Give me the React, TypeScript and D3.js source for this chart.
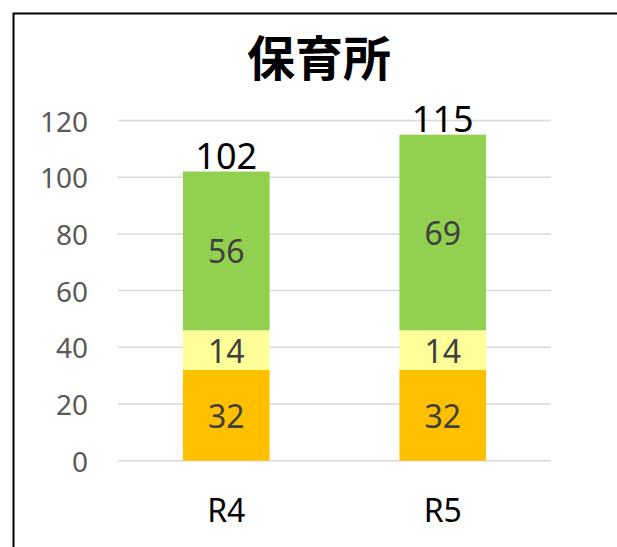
import React from "react";
import * as d3 from "d3";

const title = "保育所";
const categories = ["R4", "R5"];
const seriesKeys = ["a", "b", "c"];
const seriesA = [32, 32];
const seriesB = [14, 14];
const seriesC = [56, 69];
const totals = [102, 115];
const yTicks = [0, 20, 40, 60, 80, 100, 120];
const colors = ["#FFC000", "#FFFF99", "#92D050"];

const W = 617;
const H = 547;
const FONT = "'Noto Sans', 'Open Sans', sans-serif";

export default function App() {
  const rows = categories.map((c, i) => ({
    cat: c,
    a: seriesA[i],
    b: seriesB[i],
    c: seriesC[i],
    total: totals[i],
  }));
  const stack = d3.stack<any>().keys(seriesKeys)(rows);
  const x = d3
    .scaleBand<string>()
    .domain(categories)
    .range([118, 551])
    .paddingInner(0.6)
    .paddingOuter(0.3);
  const y = d3.scaleLinear().domain([0, 120]).range([460.7, 120.5]);
  const bw = x.bandwidth();

  return (
    <svg
      width={W}
      height={H}
      style={{ position: "absolute", left: 0, top: 0, background: "#fff" }}
      fontFamily={FONT}
    >
      <rect x={0} y={0} width={W} height={H} fill="#fff" />
      <path d={`M13.5,${H} L13.5,13.5 L${W},13.5`} fill="none" stroke="#000" strokeWidth={2} />
      <text
        x={319}
        y={63}
        textAnchor="middle"
        dominantBaseline="middle"
        fontSize={48}
        fontWeight="bold"
        fontFamily="'Noto Sans CJK JP', sans-serif"
        fill="#000"
      >
        {title}
      </text>
      {yTicks.map((t) => (
        <g key={t}>
          <line x1={118} x2={551} y1={y(t)} y2={y(t)} stroke="#d9d9d9" strokeWidth={1.5} />
          <text
            x={88}
            y={y(t)}
            textAnchor="end"
            dominantBaseline="central"
            fontSize={28}
            fill="#595959"
          >
            {t}
          </text>
        </g>
      ))}
      {stack.map((s, si) =>
        s.map((d, i) => {
          const cat = categories[i];
          const x0 = x(cat)!;
          const y0 = y(d[1]);
          const h = y(d[0]) - y(d[1]);
          return (
            <g key={`${si}-${i}`}>
              <rect x={x0} y={y0} width={bw} height={h} fill={colors[si]} />
              <text
                x={x0 + bw / 2}
                y={y((d[0] + d[1]) / 2)}
                textAnchor="middle"
                dominantBaseline="central"
                fontSize={32}
                fill="#404040"
              >
                {d[1] - d[0]}
              </text>
            </g>
          );
        })
      )}
      {rows.map((r) => (
        <text
          key={r.cat}
          x={x(r.cat)! + bw / 2}
          y={y(r.total) - 3}
          textAnchor="middle"
          fontSize={36}
          fill="#000"
        >
          {r.total}
        </text>
      ))}
      {categories.map((c) => (
        <text
          key={c}
          x={x(c)! + bw / 2}
          y={522}
          textAnchor="middle"
          fontSize={32}
          fill="#000"
        >
          {c}
        </text>
      ))}
    </svg>
  );
}
